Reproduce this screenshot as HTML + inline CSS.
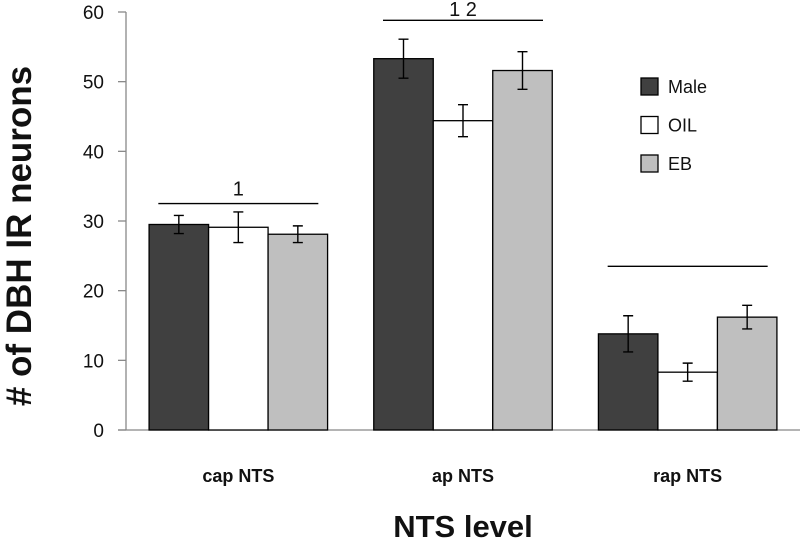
<!DOCTYPE html>
<html><head><meta charset="utf-8"><style>
body{margin:0;background:#fff}
svg{display:block;font-family:"Liberation Sans",Calibri,sans-serif}
</style></head><body>
<svg width="800" height="543" viewBox="0 0 800 543">
<g id="g"></g>
</svg>
<script>
const categories=["cap NTS","ap NTS","rap NTS"];
const seriesNames=["Male","OIL","EB"];
const maleVals=[29.5,53.3,13.8];
const oilVals=[29.1,44.4,8.3];
const ebVals=[28.1,51.6,16.2];
const maleErr=[1.3,2.8,2.6];
const oilErr=[2.2,2.3,1.3];
const ebErr=[1.2,2.7,1.7];
const yTicks=[0,10,20,30,40,50,60];
const sigLabels=["1","1 2",""];
const sigLevels=[32.5,58.8,23.5];

const NS="http://www.w3.org/2000/svg";
const g=document.getElementById('g');
const X0=126,X1=800,Y0=430,Y60=12;
const y=v=>Y0-(v/60)*(Y0-Y60);
const gw=(X1-X0)/3;
const gc=i=>X0+gw*(i+0.5);
const bw=59.5;
const bx=(i,s)=>gc(i)-bw*1.5+s*bw;
function el(t,a,txt){const e=document.createElementNS(NS,t);for(const k in a)e.setAttribute(k,a[k]);if(txt!==undefined)e.textContent=txt;g.appendChild(e);return e;}
const fills=["#404040","#ffffff","#bfbfbf"];
const vals=[maleVals,oilVals,ebVals],errs=[maleErr,oilErr,ebErr];

let a=el('line',{x1:X0,y1:Y60,x2:X0,y2:Y0,stroke:'#888','stroke-width':1.3});

a=el('line',{x1:X0-8,y1:Y0,x2:X1,y2:Y0,stroke:'#888','stroke-width':1.3});

yTicks.forEach(t=>{
  let l=el('line',{x1:X0-8,y1:y(t),x2:X0,y2:y(t),stroke:'#888','stroke-width':1.3});
  
  let tx=el('text',{x:X0-22,y:y(t)+7,'text-anchor':'end','font-size':19,fill:'#111'},t);
  
});
categories.forEach((c,i)=>{
  for(let s=0;s<3;s++){
    const v=vals[s][i],e=errs[s][i],x=bx(i,s);
    let r=el('rect',{x:x,y:y(v),width:bw,height:Y0-y(v),fill:fills[s],stroke:'#000','stroke-width':1.3});
    
    const cx=x+bw/2;
    let eb=el('path',{d:`M${cx},${y(v+e)}V${y(v-e)}M${cx-5},${y(v+e)}H${cx+5}M${cx-5},${y(v-e)}H${cx+5}`,stroke:'#000','stroke-width':1.4,fill:'none'});
    
  }
  let sl=el('line',{x1:gc(i)-80,x2:gc(i)+80,y1:y(sigLevels[i]),y2:y(sigLevels[i]),stroke:'#000','stroke-width':1.4});
  
  if(sigLabels[i]){let st=el('text',{x:gc(i),y:Math.max(y(sigLevels[i])-8,16),'text-anchor':'middle','font-size':20,fill:'#111'},sigLabels[i]);
  }
  let cl=el('text',{x:gc(i),y:482,'text-anchor':'middle','font-size':18,'font-weight':'bold',fill:'#111'},c);
  
});
seriesNames.forEach((n,s)=>{
  const ly=78+s*38.5;
  let r=el('rect',{x:641,y:ly,width:17,height:17,fill:fills[s],stroke:'#000','stroke-width':1.3});
  
  let t=el('text',{x:668,y:ly+15,'font-size':18,fill:'#111'},n);
  
});
let yt=el('text',{x:0,y:0,transform:'translate(31,236) rotate(-90)','text-anchor':'middle','font-size':35,'font-weight':'bold',fill:'#111'},'# of DBH IR neurons');

let xt=el('text',{x:463,y:537,'text-anchor':'middle','font-size':31,'font-weight':'bold',fill:'#111'},'NTS level');

</script>
</body></html>
